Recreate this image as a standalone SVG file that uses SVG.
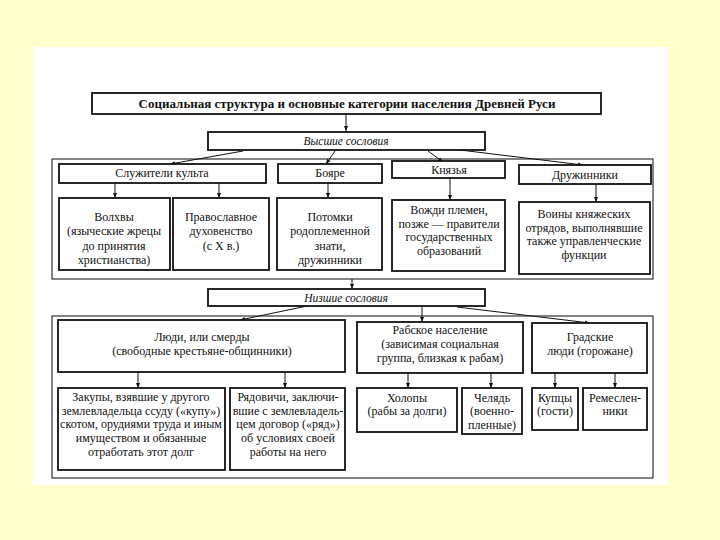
<svg xmlns="http://www.w3.org/2000/svg" width="720" height="540" viewBox="0 0 720 540">
<defs>
<marker id="ah" viewBox="0 0 10 10" refX="10" refY="5" markerWidth="5" markerHeight="5" orient="auto" markerUnits="userSpaceOnUse">
<path d="M0,1 L10,5 L0,9 Z" fill="#111"/>
</marker>
<style>
.bg{fill:#FFFFCC}
.page{fill:#FFFFFF}
.box{fill:#FFFFFF;stroke:#111;stroke-width:1.8}
.frame{fill:none;stroke:#222;stroke-width:1.1}
.t{font-family:"Liberation Serif","DejaVu Serif",serif;font-size:12px;fill:#111;text-anchor:middle}
.tt{font-family:"Liberation Serif","DejaVu Serif",serif;font-size:13px;font-weight:bold;fill:#111;text-anchor:middle}
.ti{font-family:"Liberation Serif","DejaVu Serif",serif;font-size:11.5px;font-style:italic;fill:#111;text-anchor:middle}
.c{fill:none;stroke:#111;stroke-width:1;marker-end:url(#ah)}
</style>
</defs>
<rect class="bg" x="0" y="0" width="720" height="540"/>
<rect class="page" x="33" y="47" width="635" height="438"/>
<g id="frames">
<rect class="frame" x="52" y="159" width="601" height="120"/>
<rect class="frame" x="52" y="316" width="601" height="162"/>
</g>
<g id="connectors">
<line class="c" x1="346" y1="114" x2="346" y2="131"/>
<line class="c" x1="243" y1="151" x2="170" y2="164"/>
<line class="c" x1="335" y1="151" x2="326" y2="164"/>
<line class="c" x1="428" y1="151" x2="443" y2="162"/>
<line class="c" x1="460" y1="150" x2="583" y2="165"/>
<line class="c" x1="115" y1="183" x2="115" y2="198"/>
<line class="c" x1="219" y1="183" x2="219" y2="198"/>
<line class="c" x1="328" y1="183" x2="328" y2="198"/>
<line class="c" x1="450" y1="178" x2="450" y2="200"/>
<line class="c" x1="596" y1="184" x2="596" y2="202"/>
<line class="c" x1="352" y1="279" x2="352" y2="289"/>
<line class="c" x1="307" y1="306" x2="240" y2="320"/>
<line class="c" x1="422" y1="307" x2="422" y2="322"/>
<line class="c" x1="457" y1="307" x2="590" y2="323"/>
<line class="c" x1="138" y1="372" x2="138" y2="388"/>
<line class="c" x1="285" y1="372" x2="285" y2="388"/>
<line class="c" x1="408" y1="373" x2="408" y2="388"/>
<line class="c" x1="491" y1="373" x2="491" y2="388"/>
<line class="c" x1="555" y1="373" x2="555" y2="388"/>
<line class="c" x1="615" y1="373" x2="615" y2="388"/>
</g>
<g id="title">
<rect class="box" x="92" y="93" width="509" height="21"/>
<text class="tt" x="347" y="108">Социальная структура и основные категории населения Древней Руси</text>
</g>
<g id="vysshie">
<rect class="box" x="208" y="132" width="277" height="18"/>
<text class="ti" x="346" y="145">Высшие сословия</text>
</g>
<g id="sluzhiteli">
<rect class="box" x="59" y="164" width="207" height="19"/>
<text class="t" x="162" y="177">Служители культа</text>
</g>
<g id="boyare">
<rect class="box" x="278" y="164" width="104" height="19"/>
<text class="t" x="330" y="177">Бояре</text>
</g>
<g id="knyazya">
<rect class="box" x="392" y="161" width="113" height="17"/>
<text class="t" x="449" y="174">Князья</text>
</g>
<g id="druzhinniki">
<rect class="box" x="519" y="165" width="132" height="19"/>
<text class="t" x="585" y="179">Дружинники</text>
</g>
<g id="volkhvy">
<rect class="box" x="59" y="198" width="111" height="72"/>
<text class="t" x="114" y="221">Волхвы</text>
<text class="t" x="114" y="235">(языческие жрецы</text>
<text class="t" x="114" y="250">до принятия</text>
<text class="t" x="114" y="264">христианства)</text>
</g>
<g id="pravoslavnoe">
<rect class="box" x="173" y="198" width="96" height="72"/>
<text class="t" x="221" y="221">Православное</text>
<text class="t" x="221" y="235">духовенство</text>
<text class="t" x="221" y="250">(с X в.)</text>
</g>
<g id="potomki">
<rect class="box" x="277" y="198" width="105" height="72"/>
<text class="t" x="330" y="221">Потомки</text>
<text class="t" x="330" y="235">родоплеменной</text>
<text class="t" x="330" y="250">знати,</text>
<text class="t" x="330" y="264">дружинники</text>
</g>
<g id="vozhdi">
<rect class="box" x="392" y="200" width="113" height="71"/>
<text class="t" x="449" y="214">Вожди племен,</text>
<text class="t" x="449" y="228">позже — правители</text>
<text class="t" x="449" y="241">государственных</text>
<text class="t" x="449" y="255">образований</text>
</g>
<g id="voiny">
<rect class="box" x="519" y="202" width="131" height="72"/>
<text class="t" x="584" y="218">Воины княжеских</text>
<text class="t" x="584" y="232">отрядов, выполнявшие</text>
<text class="t" x="584" y="245">также управленческие</text>
<text class="t" x="584" y="259">функции</text>
</g>
<g id="nizshie">
<rect class="box" x="208" y="289" width="277" height="17"/>
<text class="ti" x="346" y="302">Низшие сословия</text>
</g>
<g id="lyudi">
<rect class="box" x="58" y="320" width="287" height="52"/>
<text class="t" x="202" y="341">Люди, или смерды</text>
<text class="t" x="202" y="355">(свободные крестьяне-общинники)</text>
</g>
<g id="rabskoe">
<rect class="box" x="357" y="322" width="166" height="51"/>
<text class="t" x="440" y="334">Рабское население</text>
<text class="t" x="440" y="348">(зависимая социальная</text>
<text class="t" x="440" y="362">группа, близкая к рабам)</text>
</g>
<g id="gradskie">
<rect class="box" x="532" y="323" width="115" height="50"/>
<text class="t" x="590" y="341">Градские</text>
<text class="t" x="590" y="355">люди (горожане)</text>
</g>
<g id="zakupy">
<rect class="box" x="58" y="388" width="167" height="82"/>
<text class="t" x="141" y="401">Закупы, взявшие у другого</text>
<text class="t" x="141" y="415">землевладельца ссуду («купу»)</text>
<text class="t" x="141" y="428">скотом, орудиями труда и иным</text>
<text class="t" x="141" y="442">имуществом и обязанные</text>
<text class="t" x="141" y="456">отработать этот долг</text>
</g>
<g id="ryadovichi">
<rect class="box" x="230" y="388" width="115" height="82"/>
<text class="t" x="288" y="401">Рядовичи, заключи-</text>
<text class="t" x="288" y="415">вшие с землевладель-</text>
<text class="t" x="288" y="428">цем договор («ряд»)</text>
<text class="t" x="288" y="442">об условиях своей</text>
<text class="t" x="288" y="456">работы на него</text>
</g>
<g id="kholopy">
<rect class="box" x="357" y="388" width="100" height="44"/>
<text class="t" x="407" y="402">Холопы</text>
<text class="t" x="407" y="415">(рабы за долги)</text>
</g>
<g id="chelyad">
<rect class="box" x="462" y="388" width="60" height="46"/>
<text class="t" x="492" y="402">Челядь</text>
<text class="t" x="492" y="415">(военно-</text>
<text class="t" x="492" y="429">пленные)</text>
</g>
<g id="kuptsy">
<rect class="box" x="532" y="388" width="46" height="42"/>
<text class="t" x="555" y="402">Купцы</text>
<text class="t" x="555" y="415">(гости)</text>
</g>
<g id="remeslenniki">
<rect class="box" x="583" y="388" width="64" height="42"/>
<text class="t" x="615" y="402">Ремеслен-</text>
<text class="t" x="615" y="415">ники</text>
</g>
</svg>
